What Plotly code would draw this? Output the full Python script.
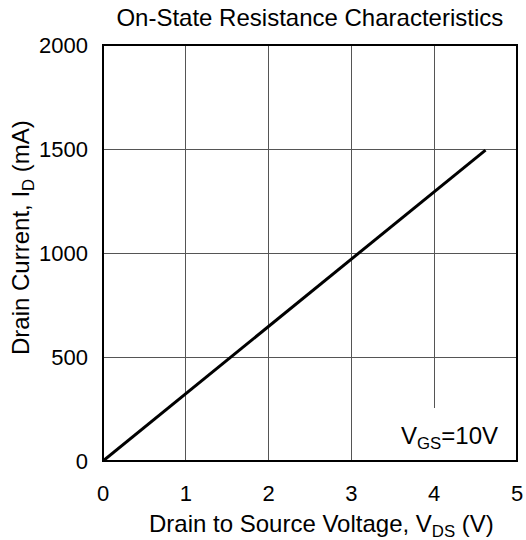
import plotly.graph_objects as go

# Data
vds = [0.0, 4.62]          # Drain to Source Voltage (V)
id_ma = [0.0, 1495.0]      # Drain Current (mA)
x_ticks = [0, 1, 2, 3, 4, 5]
y_ticks = [0, 500, 1000, 1500, 2000]

FONT = "Liberation Sans, Arial, sans-serif"

fig = go.Figure()
fig.add_trace(go.Scatter(x=vds, y=id_ma, mode="lines",
                         line=dict(color="black", width=3), showlegend=False,
                         hoverinfo="skip"))

fig.update_layout(
    width=526, height=540,
    margin=dict(l=103, r=9, t=45, b=79, autoexpand=False),
    paper_bgcolor="white", plot_bgcolor="white",
    font=dict(family=FONT, color="black"),
    title=dict(text="On-State Resistance Characteristics",
               x=0.589, xanchor="center", y=0.967, yanchor="middle",
               font=dict(size=24, family=FONT, color="black")),
    xaxis=dict(range=[0, 5], tickvals=x_ticks, showgrid=True,
               gridcolor="#555555", gridwidth=1, zeroline=False,
               showline=False, ticks="", tickfont=dict(size=22),
               ticklabelstandoff=17),
    yaxis=dict(range=[0, 2000], tickvals=y_ticks, showgrid=True,
               gridcolor="#555555", gridwidth=1, zeroline=False,
               showline=False, ticks="", tickfont=dict(size=22),
               ticklabelstandoff=14),
    shapes=[
        dict(type="rect", xref="x", yref="y", x0=3.3, x1=5, y0=0, y1=255,
             fillcolor="white", line=dict(width=0), layer="between"),
        dict(type="rect", xref="paper", yref="paper", x0=0, x1=1, y0=0, y1=1,
             line=dict(color="black", width=2), layer="above"),
    ],
    annotations=[
        dict(text="V<sub>GS</sub>=10V", xref="x", yref="y", x=4.79, y=115,
             xanchor="right", yanchor="middle", showarrow=False,
             font=dict(size=24, family=FONT, color="black")),
        dict(text="Drain to Source Voltage, V<sub>DS</sub> (V)",
             xref="paper", yref="paper", x=(321 - 103) / 414, y=-(525 - 461) / 416,
             xanchor="center", yanchor="middle", showarrow=False,
             font=dict(size=24, family=FONT, color="black")),
        dict(text="Drain Current, I<sub>D</sub> (mA)", textangle=-90,
             xref="paper", yref="paper", x=-(103 - 22) / 414, y=(461 - 238) / 416,
             xanchor="center", yanchor="middle", showarrow=False,
             font=dict(size=24, family=FONT, color="black")),
    ],
)

fig.write_html("out.html", config={"displayModeBar": False},
               post_script="document.body.style.margin='0';")
